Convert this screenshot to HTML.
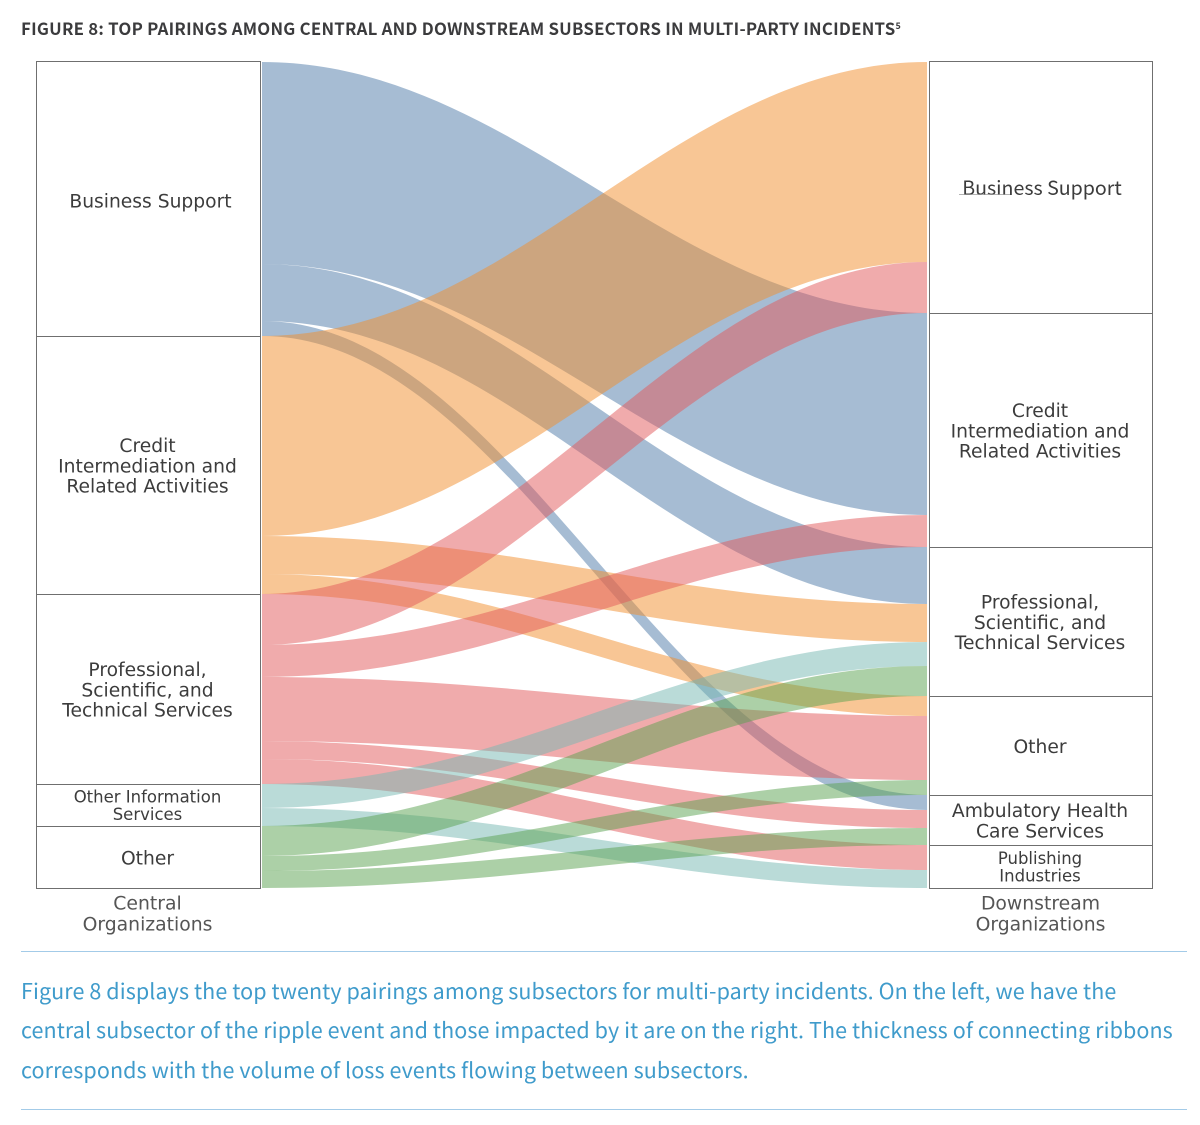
<!DOCTYPE html>
<html lang="en">
<head>
<meta charset="utf-8">
<title>Figure 8: Top pairings among subsectors</title>
<style>
  html, body { margin: 0; padding: 0; background: #fff; }
  #page { position: relative; width: 1200px; height: 1125px; overflow: hidden; background: #fff; }
  #chart { position: absolute; left: 0; top: 0; }
  #title { position: absolute; left: 21px; top: 16px; white-space: nowrap; color: #3b3b3d;
    font: 700 16.8px/24px "Noto Sans CJK JP", "Liberation Sans", sans-serif; letter-spacing: .25px; }
  #title sup { font-size: 9px; line-height: 0; vertical-align: 6px; letter-spacing: 0; }
  .rule { position: absolute; left: 21px; width: 1166px; height: 1px; background: #a3cbe8; }
  .caption-line { position: absolute; left: 21px; white-space: nowrap; color: #3f9bcb;
    font: 400 21.5px/32px "Noto Sans CJK JP", "Liberation Sans", sans-serif; letter-spacing: .085px; }
</style>
</head>
<body>
<div id="page">
  <div id="title">FIGURE 8: TOP PAIRINGS AMONG CENTRAL AND DOWNSTREAM SUBSECTORS IN MULTI-PARTY INCIDENTS<sup>5</sup></div>
  <svg id="chart" width="1200" height="1125" viewBox="0 0 1200 1125" xmlns="http://www.w3.org/2000/svg"></svg>
  <div class="rule" style="top:951px"></div>
  <div class="caption-line" style="top:975px">Figure 8 displays the top twenty pairings among subsectors for multi-party incidents. On the left, we have the</div>
  <div class="caption-line" style="top:1014px">central subsector of the ripple event and those impacted by it are on the right. The thickness of connecting ribbons</div>
  <div class="caption-line" style="top:1054px">corresponds with the volume of loss events flowing between subsectors.</div>
  <div class="rule" style="top:1109px"></div>
</div>
<script>
// Chart data: node names and the volume of loss events per pairing.
const centralNames = ["Business Support", "Credit Intermediation and Related Activities", "Professional, Scientific, and Technical Services", "Other Information Services", "Other"];
const downstreamNames = ["Business Support", "Credit Intermediation and Related Activities", "Professional, Scientific, and Technical Services", "Other", "Ambulatory Health Care Services", "Publishing Industries"];
const flowSource = [0, 0, 0, 1, 1, 1, 2, 2, 2, 2, 2, 3, 3, 4, 4, 4];
const flowTarget = [1, 2, 4, 0, 2, 3, 0, 1, 3, 4, 5, 2, 5, 2, 3, 4];
const flowValues = [202, 57, 15, 200, 38, 20, 51, 32, 64, 18, 25, 24, 18, 30, 15, 17];
const downstreamInOrder = [[3, 6], [0, 7], [1, 4, 11, 13], [5, 8, 14], [2, 9, 15], [10, 12]];
const seriesColors = ["#4e79a7", "#f28e2b", "#e15759", "#76b7b2", "#59a14f"];

const svgNS = "http://www.w3.org/2000/svg";
const chart = document.getElementById("chart");
const LABEL_FONT = '"DejaVu Sans", "Liberation Sans", sans-serif';
const plotTop = 62, plotBottom = 888, ribbonLeft = 262, ribbonRight = 927;
const totalValue = flowValues.reduce((a, b) => a + b, 0);

function yScale(v) { return plotTop + v * (plotBottom - plotTop) / totalValue; }

function slug(s) { return s.toLowerCase().replace(/[^a-z0-9]+/g, "-").replace(/^-|-$/g, ""); }

// Stack node extents from values
const sourceTotals = centralNames.map((_, i) => flowValues.reduce((s, v, k) => s + (flowSource[k] === i ? v : 0), 0));
const targetTotals = downstreamNames.map((_, i) => flowValues.reduce((s, v, k) => s + (flowTarget[k] === i ? v : 0), 0));

function stackNodes(totals) {
  let acc = 0;
  return totals.map(t => { const n = { start: acc, end: acc + t }; acc += t; return n; });
}
const leftNodes = stackNodes(sourceTotals);
const rightNodes = stackNodes(targetTotals);

// Ribbon offsets on each side
const leftOffset = new Array(flowValues.length);
centralNames.forEach((_, i) => {
  let acc = leftNodes[i].start;
  flowValues.forEach((v, k) => { if (flowSource[k] === i) { leftOffset[k] = acc; acc += v; } });
});
const rightOffset = new Array(flowValues.length);
downstreamInOrder.forEach((list, i) => {
  let acc = rightNodes[i].start;
  list.forEach(k => { rightOffset[k] = acc; acc += flowValues[k]; });
});

function ribbonPath(y0a, y0b, y1a, y1b) {
  const w = ribbonRight - ribbonLeft;
  const c1 = ribbonLeft + w * 0.38, c2 = ribbonLeft + w * 0.62;
  return "M" + ribbonLeft + " " + y0a +
    "C" + c1 + " " + y0a + " " + c2 + " " + y1a + " " + ribbonRight + " " + y1a +
    "L" + ribbonRight + " " + y1b +
    "C" + c2 + " " + y1b + " " + c1 + " " + y0b + " " + ribbonLeft + " " + y0b + "Z";
}

flowValues.forEach((v, k) => {
  const p = document.createElementNS(svgNS, "path");
  p.setAttribute("d", ribbonPath(yScale(leftOffset[k]), yScale(leftOffset[k] + v), yScale(rightOffset[k]), yScale(rightOffset[k] + v)));
  p.setAttribute("fill", seriesColors[flowSource[k]]);
  p.setAttribute("fill-opacity", "0.5");
  
  
  chart.appendChild(p);
});

function addText(str, x, y, size, fill, family, name) {
  const t = document.createElementNS(svgNS, "text");
  t.textContent = str;
  t.setAttribute("x", x);
  t.setAttribute("y", y);
  t.setAttribute("text-anchor", "middle");
  t.setAttribute("dominant-baseline", "central");
  t.setAttribute("font-size", size);
  t.setAttribute("font-family", family);
  t.setAttribute("fill", fill);
  
  
  chart.appendChild(t);
}

function wrapName(name) {
  if (name.startsWith("Credit")) return ["Credit", "Intermediation and", "Related Activities"];
  if (name.startsWith("Professional")) return ["Professional,", "Scientific, and", "Technical Services"];
  if (name === "Other Information Services") return ["Other Information", "Services"];
  if (name.startsWith("Ambulatory")) return ["Ambulatory Health", "Care Services"];
  if (name === "Publishing Industries") return ["Publishing", "Industries"];
  return [name];
}

function drawColumn(names, nodes, boxLeft, boxRight, side) {
  const cx = (boxLeft + boxRight) / 2 - 0.5;
  names.forEach((name, i) => {
    const y0 = yScale(nodes[i].start), y1 = yScale(nodes[i].end);
    const boxTop = i === 0 ? Math.round(y0) - 0.5 : Math.round(y0) + 0.5;
    const r = document.createElementNS(svgNS, "rect");
    r.setAttribute("x", boxLeft + 0.5);
    r.setAttribute("y", boxTop);
    r.setAttribute("width", boxRight - boxLeft);
    r.setAttribute("height", Math.round(y1) + 0.5 - boxTop);
    r.setAttribute("fill", "none");
    r.setAttribute("stroke", "#6f6f6f");
    r.setAttribute("stroke-width", "1");
    
    
    chart.appendChild(r);

    const lines = wrapName(name);
    const small = (y1 - y0) < 45;
    const isBiz = name === "Business Support";
    const isNoto = isBiz && side === "downstream";
    const family = isNoto ? '"Noto Sans CJK JP", "Liberation Sans", sans-serif' : LABEL_FONT;
    const fontSize = isNoto ? 19.6 : (small ? 16.5 : 18.7);
    const gap = small ? 17.7 : 20.3;
    const mid = (y0 + y1) / 2;
    const dx = isBiz ? (side === "central" ? 3 : 2) : 0;
    const dy = isNoto ? -1.2 : (isBiz ? 3 : (small ? 0.7 : 1.8));
    lines.forEach((ln, j) => {
      addText(ln, cx + dx, mid + dy + (j - (lines.length - 1) / 2) * gap, fontSize, "#3c3c3c", family, side + "-label-" + slug(name) + "-line-" + (j + 1));
    });
  });
}
drawColumn(centralNames, leftNodes, 36, 260, "central");
drawColumn(downstreamNames, rightNodes, 929, 1152, "downstream");

addText("Central", 147.5, 904, 18.8, "#555555", LABEL_FONT, "central-axis-title-line-1");
addText("Organizations", 147.5, 925, 18.8, "#555555", LABEL_FONT, "central-axis-title-line-2");
addText("Downstream", 1040.5, 904, 18.8, "#555555", LABEL_FONT, "downstream-axis-title-line-1");
addText("Organizations", 1040.5, 925, 18.8, "#555555", LABEL_FONT, "downstream-axis-title-line-2");

const under = document.createElementNS(svgNS, "line");
under.setAttribute("x1", "959");
under.setAttribute("x2", "1010");
under.setAttribute("y1", "194.5");
under.setAttribute("y2", "194.5");
under.setAttribute("stroke", "#9a9a9a");
under.setAttribute("stroke-width", "0.7");


chart.appendChild(under);
</script>
</body>
</html>
